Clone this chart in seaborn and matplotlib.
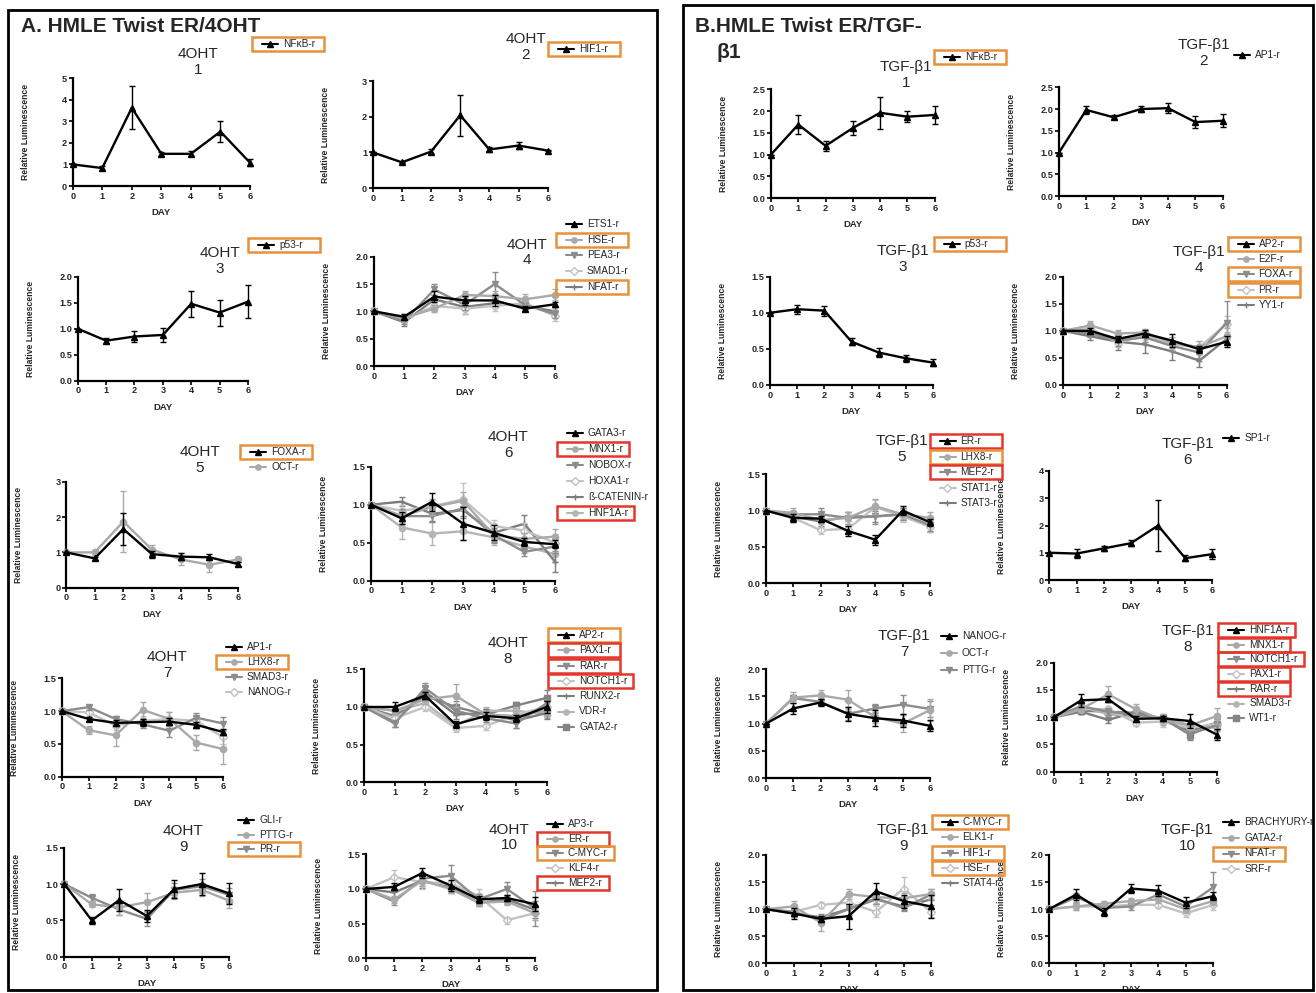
import numpy as np
import matplotlib
matplotlib.use("Agg")
import matplotlib.pyplot as plt
from matplotlib.lines import Line2D
from matplotlib.patches import Rectangle
import seaborn as sns

W, H = 1316, 993

days = [0, 1, 2, 3, 4, 5, 6]

# ---------------- panel A : 4OHT ----------------
a1_names = ["NFκB-r"]
a1_mean = [[1.0, 0.83, 3.62, 1.49, 1.49, 2.52, 1.08]]
a1_sem = [[0, 0.08, 1.0, 0.08, 0.12, 0.5, 0.17]]

a2_names = ["HIF1-r"]
a2_mean = [[1.0, 0.72, 1.02, 2.04, 1.08, 1.19, 1.05]]
a2_sem = [[0, 0.02, 0.08, 0.57, 0.08, 0.1, 0.02]]

a3_names = ["p53-r"]
a3_mean = [[1.0, 0.77, 0.85, 0.88, 1.48, 1.31, 1.52]]
a3_sem = [[0, 0.05, 0.11, 0.13, 0.25, 0.25, 0.32]]

a4_names = ["ETS1-r", "HSE-r", "PEA3-r", "SMAD1-r", "NFAT-r"]
a4_mean = [[1.0, 0.9, 1.27, 1.2, 1.2, 1.05, 1.13],
           [1.0, 0.88, 1.05, 1.3, 1.28, 1.22, 1.3],
           [1.0, 0.82, 1.4, 1.12, 1.5, 1.12, 0.95],
           [1.0, 0.85, 1.1, 1.05, 1.1, 1.15, 0.92],
           [1.0, 0.8, 1.22, 1.08, 1.15, 1.1, 1.0]]
a4_sem = [[0, 0.05, 0.1, 0.08, 0.1, 0.05, 0.05],
          [0, 0.08, 0.06, 0.08, 0.1, 0.1, 0.1],
          [0, 0.06, 0.1, 0.1, 0.22, 0.08, 0.08],
          [0, 0.05, 0.08, 0.1, 0.1, 0.08, 0.1],
          [0, 0.06, 0.08, 0.12, 0.08, 0.06, 0.08]]

a5_names = ["FOXA-r", "OCT-r"]
a5_mean = [[1.0, 0.83, 1.66, 0.95, 0.88, 0.86, 0.67],
           [1.0, 1.0, 1.87, 1.08, 0.8, 0.65, 0.8]]
a5_sem = [[0, 0.04, 0.45, 0.1, 0.1, 0.08, 0.05],
          [0, 0.08, 0.87, 0.13, 0.17, 0.2, 0.08]]

a6_names = ["GATA3-r", "MNX1-r", "NOBOX-r", "HOXA1-r", "ß-CATENIN-r", "HNF1A-r"]
a6_mean = [[1.0, 0.82, 1.04, 0.75, 0.63, 0.51, 0.48],
           [1.0, 0.85, 0.97, 1.05, 0.6, 0.55, 0.58],
           [1.0, 0.85, 0.85, 0.95, 0.6, 0.38, 0.45],
           [1.0, 0.92, 0.98, 1.07, 0.72, 0.66, 0.5],
           [1.0, 1.04, 0.88, 0.93, 0.63, 0.75, 0.25],
           [1.0, 0.7, 0.62, 0.65, 0.57, 0.45, 0.35]]
a6_sem = [[0, 0.08, 0.12, 0.22, 0.1, 0.05, 0.05],
          [0, 0.08, 0.1, 0.12, 0.08, 0.08, 0.1],
          [0, 0.1, 0.08, 0.1, 0.1, 0.05, 0.08],
          [0, 0.08, 0.08, 0.22, 0.08, 0.1, 0.12],
          [0, 0.06, 0.1, 0.1, 0.12, 0.12, 0.14],
          [0, 0.15, 0.15, 0.12, 0.1, 0.08, 0.1]]

a7_names = ["AP1-r", "LHX8-r", "SMAD3-r", "NANOG-r"]
a7_mean = [[1.0, 0.88, 0.82, 0.83, 0.84, 0.79, 0.68],
           [1.0, 0.71, 0.63, 1.02, 0.88, 0.52, 0.42],
           [1.0, 1.06, 0.88, 0.8, 0.7, 0.9, 0.81],
           [1.0, 0.98, 0.78, 0.85, 0.88, 0.85, 0.6]]
a7_sem = [[0, 0.03, 0.04, 0.05, 0.05, 0.05, 0.05],
          [0, 0.06, 0.16, 0.12, 0.1, 0.12, 0.22],
          [0, 0.04, 0.04, 0.06, 0.1, 0.07, 0.1],
          [0, 0.05, 0.07, 0.08, 0.1, 0.08, 0.1]]

a8_names = ["AP2-r", "PAX1-r", "RAR-r", "NOTCH1-r", "RUNX2-r", "VDR-r", "GATA2-r"]
a8_mean = [[1.0, 1.0, 1.15, 0.77, 0.88, 0.85, 1.0],
           [1.0, 0.95, 1.1, 1.15, 0.9, 0.88, 0.95],
           [1.0, 0.78, 1.25, 0.95, 0.85, 0.78, 1.05],
           [1.0, 0.85, 1.0, 0.72, 0.75, 0.9, 1.0],
           [1.0, 0.8, 1.2, 0.9, 0.92, 0.82, 0.92],
           [1.0, 0.95, 1.05, 0.75, 0.95, 0.95, 0.9],
           [1.0, 0.88, 1.15, 1.0, 0.9, 1.02, 1.12]]
a8_sem = [[0, 0.06, 0.05, 0.05, 0.05, 0.05, 0.08],
          [0, 0.05, 0.06, 0.15, 0.05, 0.06, 0.06],
          [0, 0.05, 0.07, 0.06, 0.05, 0.06, 0.06],
          [0, 0.05, 0.05, 0.05, 0.05, 0.05, 0.05],
          [0, 0.06, 0.06, 0.06, 0.05, 0.1, 0.08],
          [0, 0.05, 0.05, 0.05, 0.05, 0.05, 0.05],
          [0, 0.05, 0.06, 0.08, 0.05, 0.05, 0.1]]

a9_names = ["GLI-r", "PTTG-r", "PR-r"]
a9_mean = [[1.0, 0.5, 0.78, 0.56, 0.93, 1.0, 0.87],
           [1.0, 0.72, 0.68, 0.75, 0.88, 0.92, 0.77],
           [1.0, 0.81, 0.65, 0.52, 0.92, 0.97, 0.85]]
a9_sem = [[0, 0.05, 0.15, 0.08, 0.12, 0.15, 0.15],
          [0, 0.04, 0.1, 0.12, 0.08, 0.08, 0.1],
          [0, 0.05, 0.08, 0.1, 0.1, 0.1, 0.1]]

a10_names = ["AP3-r", "ER-r", "C-MYC-r", "KLF4-r", "MEF2-r"]
a10_mean = [[1.0, 1.03, 1.23, 1.05, 0.85, 0.87, 0.78],
            [1.0, 0.85, 1.12, 1.0, 0.8, 0.82, 0.65],
            [1.0, 0.82, 1.15, 1.19, 0.85, 1.0, 0.72],
            [1.0, 1.17, 1.1, 1.08, 0.9, 0.55, 0.65],
            [1.0, 0.95, 1.12, 1.02, 0.8, 0.85, 0.7]]
a10_sem = [[0, 0.05, 0.07, 0.08, 0.05, 0.05, 0.1],
           [0, 0.05, 0.08, 0.06, 0.05, 0.05, 0.1],
           [0, 0.05, 0.1, 0.15, 0.08, 0.1, 0.25],
           [0, 0.1, 0.1, 0.12, 0.1, 0.05, 0.1],
           [0, 0.1, 0.1, 0.08, 0.05, 0.06, 0.12]]

# ---------------- panel B : TGF-β1 ----------------
b1_names = ["NFκB-r"]
b1_mean = [[1.0, 1.69, 1.2, 1.61, 1.96, 1.87, 1.91]]
b1_sem = [[0, 0.22, 0.12, 0.17, 0.37, 0.12, 0.21]]

b2_names = ["AP1-r"]
b2_mean = [[1.0, 1.98, 1.81, 2.0, 2.02, 1.7, 1.73]]
b2_sem = [[0, 0.1, 0.05, 0.07, 0.12, 0.13, 0.15]]

b3_names = ["p53-r"]
b3_mean = [[1.0, 1.05, 1.03, 0.6, 0.45, 0.37, 0.31]]
b3_sem = [[0, 0.06, 0.07, 0.05, 0.06, 0.05, 0.05]]

b4_names = ["AP2-r", "E2F-r", "FOXA-r", "PR-r", "YY1-r"]
b4_mean = [[1.0, 1.0, 0.85, 0.95, 0.82, 0.66, 0.8],
           [1.0, 1.1, 0.95, 0.97, 0.78, 0.7, 0.9],
           [1.0, 0.95, 0.82, 0.88, 0.72, 0.6, 1.15],
           [1.0, 1.05, 0.78, 0.92, 0.75, 0.7, 1.12],
           [1.0, 0.9, 0.8, 0.75, 0.62, 0.45, 0.85]]
b4_sem = [[0, 0.05, 0.05, 0.06, 0.12, 0.06, 0.1],
          [0, 0.08, 0.06, 0.06, 0.1, 0.12, 0.15],
          [0, 0.06, 0.1, 0.08, 0.1, 0.1, 0.4],
          [0, 0.06, 0.08, 0.08, 0.08, 0.12, 0.15],
          [0, 0.06, 0.15, 0.15, 0.15, 0.12, 0.1]]

b5_names = ["ER-r", "LHX8-r", "MEF2-r", "STAT1-r", "STAT3-r"]
b5_mean = [[1.0, 0.9, 0.89, 0.72, 0.6, 1.0, 0.84],
           [1.0, 0.97, 0.87, 0.9, 1.06, 0.95, 0.9],
           [1.0, 0.95, 0.95, 0.9, 0.92, 0.95, 0.8],
           [1.0, 0.9, 0.73, 0.75, 1.05, 0.92, 0.78],
           [1.0, 0.92, 0.85, 0.92, 0.92, 0.95, 0.78]]
b5_sem = [[0, 0.05, 0.04, 0.07, 0.07, 0.06, 0.05],
          [0, 0.06, 0.06, 0.08, 0.1, 0.06, 0.08],
          [0, 0.05, 0.08, 0.08, 0.1, 0.08, 0.08],
          [0, 0.06, 0.05, 0.06, 0.1, 0.08, 0.07],
          [0, 0.05, 0.06, 0.06, 0.08, 0.08, 0.07]]

b6_names = ["SP1-r"]
b6_mean = [[1.0, 0.97, 1.16, 1.35, 2.0, 0.8, 0.95]]
b6_sem = [[0, 0.17, 0.1, 0.12, 0.93, 0.1, 0.18]]

b7_names = ["NANOG-r", "OCT-r", "PTTG-r"]
b7_mean = [[1.0, 1.28, 1.39, 1.18, 1.1, 1.06, 0.96],
           [1.0, 1.48, 1.52, 1.44, 1.12, 1.0, 1.25],
           [1.0, 1.47, 1.4, 1.18, 1.28, 1.35, 1.27]]
b7_sem = [[0, 0.1, 0.06, 0.13, 0.15, 0.12, 0.1],
          [0, 0.1, 0.1, 0.17, 0.1, 0.15, 0.2],
          [0, 0.05, 0.05, 0.12, 0.08, 0.18, 0.15]]

b8_names = ["HNF1A-r", "MNX1-r", "NOTCH1-r", "PAX1-r", "RAR-r", "SMAD3-r", "WT1-r"]
b8_mean = [[1.0, 1.31, 1.33, 0.97, 0.98, 0.93, 0.68],
           [1.0, 1.15, 1.42, 1.15, 0.95, 0.85, 1.02],
           [1.0, 1.2, 1.1, 1.05, 0.98, 0.7, 0.85],
           [1.0, 1.15, 1.15, 0.9, 0.92, 0.8, 0.88],
           [1.0, 1.1, 0.95, 1.1, 0.95, 0.75, 0.9],
           [1.0, 1.2, 1.05, 1.0, 1.0, 0.85, 0.8],
           [1.0, 1.12, 1.1, 1.08, 0.98, 0.68, 0.88]]
b8_sem = [[0, 0.12, 0.05, 0.06, 0.05, 0.13, 0.1],
          [0, 0.06, 0.15, 0.1, 0.1, 0.08, 0.15],
          [0, 0.06, 0.06, 0.08, 0.06, 0.1, 0.08],
          [0, 0.05, 0.05, 0.06, 0.1, 0.06, 0.06],
          [0, 0.05, 0.05, 0.06, 0.06, 0.08, 0.06],
          [0, 0.06, 0.06, 0.06, 0.06, 0.06, 0.06],
          [0, 0.06, 0.06, 0.06, 0.06, 0.1, 0.08]]

b9_names = ["C-MYC-r", "ELK1-r", "HIF1-r", "HSE-r", "STAT4-r"]
b9_mean = [[1.0, 0.92, 0.82, 0.87, 1.33, 1.15, 1.05],
           [1.0, 1.05, 0.75, 1.28, 1.22, 1.2, 1.28],
           [1.0, 0.95, 0.8, 1.0, 1.2, 1.02, 1.27],
           [1.0, 0.95, 1.08, 1.12, 0.95, 1.38, 0.95],
           [1.0, 0.92, 0.85, 1.0, 1.18, 1.05, 1.18]]
b9_sem = [[0, 0.1, 0.06, 0.23, 0.15, 0.12, 0.22],
          [0, 0.1, 0.15, 0.1, 0.1, 0.1, 0.1],
          [0, 0.05, 0.08, 0.1, 0.1, 0.06, 0.1],
          [0, 0.08, 0.05, 0.1, 0.1, 0.22, 0.1],
          [0, 0.06, 0.06, 0.1, 0.08, 0.06, 0.1]]

b10_names = ["BRACHYURY-r", "GATA2-r", "NFAT-r", "SRF-r"]
b10_mean = [[1.0, 1.27, 0.95, 1.38, 1.34, 1.12, 1.24],
            [1.0, 1.05, 1.1, 1.15, 1.18, 1.0, 1.15],
            [1.0, 1.22, 1.02, 1.05, 1.27, 1.05, 1.4],
            [1.0, 1.05, 1.05, 1.08, 1.08, 0.92, 1.08]]
b10_sem = [[0, 0.1, 0.08, 0.08, 0.1, 0.1, 0.08],
           [0, 0.06, 0.05, 0.05, 0.06, 0.08, 0.08],
           [0, 0.08, 0.05, 0.06, 0.06, 0.08, 0.28],
           [0, 0.06, 0.06, 0.06, 0.06, 0.06, 0.1]]

ORANGE = "#e8913a"
RED = "#e2372a"

# highlighted legend entries
BOXES = {
    "A1": {"NFκB-r": ORANGE}, "A2": {"HIF1-r": ORANGE}, "A3": {"p53-r": ORANGE},
    "A4": {"HSE-r": ORANGE, "NFAT-r": ORANGE}, "A5": {"FOXA-r": ORANGE},
    "A6": {"MNX1-r": RED, "HNF1A-r": RED}, "A7": {"LHX8-r": ORANGE},
    "A8": {"AP2-r": ORANGE, "PAX1-r": RED, "RAR-r": RED, "NOTCH1-r": RED},
    "A9": {"PR-r": ORANGE}, "A10": {"ER-r": RED, "C-MYC-r": ORANGE, "MEF2-r": RED},
    "B1": {"NFκB-r": ORANGE}, "B3": {"p53-r": ORANGE},
    "B4": {"AP2-r": ORANGE, "FOXA-r": ORANGE, "PR-r": ORANGE},
    "B5": {"ER-r": RED, "LHX8-r": ORANGE, "MEF2-r": RED},
    "B8": {"HNF1A-r": RED, "MNX1-r": RED, "NOTCH1-r": RED, "PAX1-r": RED, "RAR-r": RED},
    "B9": {"C-MYC-r": ORANGE, "HIF1-r": ORANGE, "HSE-r": ORANGE},
    "B10": {"NFAT-r": ORANGE},
}

# series look (Prism-like greys)
STYLES = [
    dict(color="#000000", marker="^", mfc="#000000"),
    dict(color="#a9a9a9", marker="o", mfc="#a9a9a9"),
    dict(color="#8c8c8c", marker="v", mfc="#8c8c8c"),
    dict(color="#c2c2c2", marker="D", mfc="white"),
    dict(color="#7c7c7c", marker="+", mfc="#7c7c7c"),
    dict(color="#b5b5b5", marker="o", mfc="#b5b5b5"),
    dict(color="#838383", marker="s", mfc="#838383"),
]

# key, title, data, axis px box (x0, x1, ybottom, ytop), ymax, ystep,
# title centre, legend (line x, first y, step), DAY label
PLOTS = [
    ("A1", "4OHT\n1", a1_names, a1_mean, a1_sem, (72.7, 250, 186, 78), 5, 1, (198, 62), (262, 44, 15), True),
    ("A2", "4OHT\n2", a2_names, a2_mean, a2_sem, (372.7, 547.7, 188, 81), 3, 1, (526, 47), (558, 49, 15), False),
    ("A3", "4OHT\n3", a3_names, a3_mean, a3_sem, (77.7, 248, 380.7, 276.7), 2, 0.5, (220, 261), (258, 245, 15), True),
    ("A4", "4OHT\n4", a4_names, a4_mean, a4_sem, (374, 555, 366, 256.7), 2, 0.5, (527, 252.5), (566, 224, 15.7), True),
    ("A5", "4OHT\n5", a5_names, a5_mean, a5_sem, (66, 238, 587.7, 481.7), 3, 1, (200, 460), (250, 452, 15), True),
    ("A6", "4OHT\n6", a6_names, a6_mean, a6_sem, (371, 555, 580.7, 466.7), 1.5, 0.5, (508, 445), (567, 433, 15.9), True),
    ("A7", "4OHT\n7", a7_names, a7_mean, a7_sem, (61.7, 223.3, 776.7, 678.3), 1.5, 0.5, (167, 665), (226, 647, 15), True),
    ("A8", "4OHT\n8", a8_names, a8_mean, a8_sem, (364.3, 546.7, 782.3, 669.3), 1.5, 0.5, (508, 651), (558, 635, 15.3), True),
    ("A9", "4OHT\n9", a9_names, a9_mean, a9_sem, (64.3, 229.3, 956.7, 847.7), 1.5, 0.5, (183, 839), (238, 820, 14.7), True),
    ("A10", "4OHT\n10", a10_names, a10_mean, a10_sem, (366, 535, 958.3, 854.3), 1.5, 0.5, (509, 837.5), (547, 824, 14.7), True),
    ("B1", "TGF-β1\n1", b1_names, b1_mean, b1_sem, (771, 934.7, 198, 89.3), 2.5, 0.5, (906, 75), (944, 56.7, 15), True),
    ("B2", "TGF-β1\n2", b2_names, b2_mean, b2_sem, (1059, 1222.6, 196, 87.3), 2.5, 0.5, (1204, 53), (1233.5, 55, 15), True),
    ("B3", "TGF-β1\n3", b3_names, b3_mean, b3_sem, (770, 933, 385, 276.7), 1.5, 0.5, (903, 259), (943.5, 244, 15), True),
    ("B4", "TGF-β1\n4", b4_names, b4_mean, b4_sem, (1063, 1226.6, 385, 276.7), 2, 0.5, (1199, 260), (1237.6, 243.7, 15.3), True),
    ("B5", "TGF-β1\n5", b5_names, b5_mean, b5_sem, (766, 930, 583.3, 474.3), 1.5, 0.5, (902, 449), (939.5, 441, 15.6), True),
    ("B6", "TGF-β1\n6", b6_names, b6_mean, b6_sem, (1049.4, 1212.4, 580, 471), 4, 1, (1188, 452), (1223.4, 438.3, 15), True),
    ("B7", "TGF-β1\n7", b7_names, b7_mean, b7_sem, (766, 930, 778, 669.3), 2, 0.5, (904, 644), (940.7, 636, 17), True),
    ("B8", "TGF-β1\n8", b8_names, b8_mean, b8_sem, (1054, 1217, 771.7, 662.7), 2, 0.5, (1188, 639), (1228.3, 630, 14.7), True),
    ("B9", "TGF-β1\n9", b9_names, b9_mean, b9_sem, (766, 931, 963.3, 855), 2, 0.5, (903, 838), (941.6, 821.7, 15.4), True),
    ("B10", "TGF-β1\n10", b10_names, b10_mean, b10_sem, (1049, 1213, 963.3, 855), 2, 0.5, (1187, 838), (1223.4, 821.7, 15.9), True),
]


def fx(x):
    return x / W


def fy(y):
    return 1 - y / H


def draw_panel(fig, key, title, names, means, sems, box, ymax, ystep, tpos, leg, daylabel):
    x0, x1, yb, yt = box
    ax = fig.add_axes([fx(x0), fy(yb), (x1 - x0) / W, (yb - yt) / H])
    for i, (name, m, e) in enumerate(zip(names, means, sems)):
        st = STYLES[i]
        sns.lineplot(x=days, y=m, ax=ax, color=st["color"], marker=st["marker"],
                     markersize=4.5, markerfacecolor=st["mfc"], markeredgecolor=st["color"],
                     markeredgewidth=1, linewidth=1.7, legend=False, clip_on=False,
                     zorder=10 - i)
        ax.errorbar(days, m, yerr=e, fmt="none", ecolor=st["color"], elinewidth=1,
                    capsize=2.5, capthick=1, clip_on=False, zorder=10 - i)
    ax.set_xlim(0, 6)
    ax.set_ylim(0, ymax)
    yt_vals = np.arange(0, ymax + 1e-9, ystep)
    ax.set_xticks(days)
    ax.set_xticklabels([str(d) for d in days], fontweight="bold", fontsize=6.6)
    ax.set_yticks(yt_vals)
    fmt = "{:.0f}" if ystep >= 1 else "{:.1f}"
    ax.set_yticklabels([fmt.format(v) for v in yt_vals], fontweight="bold", fontsize=6.6)
    ax.tick_params(length=3, width=1.2, pad=1, color="black")
    for s in ["left", "bottom"]:
        ax.spines[s].set_linewidth(1.6)
        ax.spines[s].set_color("black")
    sns.despine(ax=ax)
    ax.set_ylabel("Relative Luminescence", fontsize=6.2, fontweight="bold")
    ax.yaxis.set_label_coords(-43 / (x1 - x0), 0.5)
    if daylabel:
        ax.set_xlabel("DAY", fontsize=6.8, fontweight="bold")
        ax.xaxis.set_label_coords(0.5, -22 / (yb - yt))
    else:
        ax.set_xlabel("")
    ax.set_facecolor("none")

    fig.text(fx(tpos[0]), fy(tpos[1]), title, ha="center", va="center",
             fontsize=11, linespacing=1.15)

    # legend drawn entry by entry
    lx, ly, dy = leg
    renderer = fig.canvas.get_renderer()
    for i, name in enumerate(names):
        st = STYLES[i]
        y = ly + i * dy
        fig.add_artist(Line2D([fx(lx), fx(lx + 16)], [fy(y), fy(y)], color=st["color"], lw=1.5))
        fig.add_artist(Line2D([fx(lx + 8)], [fy(y)], marker=st["marker"], markersize=3.8,
                              markerfacecolor=st["mfc"], markeredgecolor=st["color"], lw=0))
        t = fig.text(fx(lx + 21), fy(y), name, ha="left", va="center", fontsize=7.3)
        if name in BOXES.get(key, {}):
            bb = t.get_window_extent(renderer=renderer)
            left = lx - 10
            right = max(left + 72, bb.x1 + 6)
            fig.add_artist(Rectangle((fx(left), fy(y + 7)), (right - left) / W, 14 / H,
                                     transform=fig.transFigure, fill=False,
                                     edgecolor=BOXES[key][name], lw=1.8))


def main():
    sns.set_style("ticks")
    plt.rcParams["font.family"] = ["Liberation Sans", "DejaVu Sans"]
    fig = plt.figure(figsize=(W / 100, H / 100), dpi=100)
    fig.patch.set_facecolor("white")

    # panel frames
    fig.add_artist(Rectangle((fx(8), fy(990)), (657 - 8) / W, (990 - 10) / H,
                             transform=fig.transFigure, fill=False, edgecolor="black", lw=2))
    fig.add_artist(Rectangle((fx(683), fy(990)), (1313 - 683) / W, (990 - 5) / H,
                             transform=fig.transFigure, fill=False, edgecolor="black", lw=2))
    fig.text(fx(21), fy(26), "A. HMLE Twist ER/4OHT", fontsize=15, fontweight="bold",
             ha="left", va="center")
    fig.text(fx(695), fy(27), "B.HMLE Twist ER/TGF-", fontsize=15, fontweight="bold",
             ha="left", va="center")
    fig.text(fx(717), fy(53), "β1", fontsize=15, fontweight="bold", ha="left", va="center")

    for p in PLOTS:
        draw_panel(fig, *p)

    fig.savefig("out.png", dpi=100)
    plt.close(fig)


if __name__ == "__main__":
    main()
